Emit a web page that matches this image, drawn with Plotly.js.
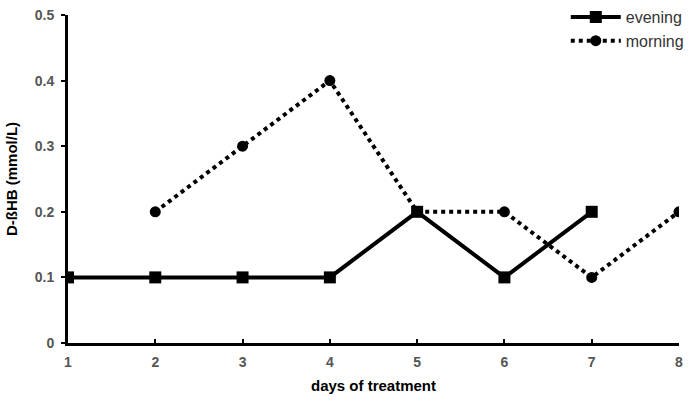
<!DOCTYPE html>
<html><head><meta charset="utf-8">
<script src="https://cdn.plot.ly/plotly-3.0.1.min.js"></script>
<style>body{margin:0;}#chart{width:691px;height:405px;}</style>
</head><body><div id="chart"></div>
<script>
const eveningDays = [1,2,3,4,5,6,7];
const eveningVals = [0.1,0.1,0.1,0.1,0.2,0.1,0.2];
const morningDays = [2,3,4,5,6,7,8];
const morningVals = [0.2,0.3,0.4,0.2,0.2,0.1,0.2];
const xTicks = [1,2,3,4,5,6,7,8];
const yTicks = [0,0.1,0.2,0.3,0.4,0.5];
const yTickText = ['0','0.1','0.2','0.3','0.4','0.5'];

const traces = [
  {x: eveningDays, y: eveningVals, name: 'evening', mode: 'lines+markers',
   line: {color: '#000', width: 4}, marker: {symbol: 'square', size: 12, color: '#000'}},
  {x: morningDays, y: morningVals, name: 'morning', mode: 'lines+markers',
   line: {color: '#000', width: 4, dash: 'dot'}, marker: {symbol: 'circle', size: 11, color: '#000'}}
];
const layout = {
  width: 691, height: 405,
  margin: {l: 68, r: 12, t: 15, b: 62, autoexpand: false},
  paper_bgcolor: '#fff', plot_bgcolor: '#fff',
  font: {family: 'Liberation Sans, Arial, sans-serif', size: 13, color: '#000'},
  showlegend: true,
  legend: {x: 1.016, xanchor: 'right', xref: 'paper', y: 1, yanchor: 'top', yref: 'container',
           bgcolor: 'rgba(0,0,0,0)', font: {size: 16, color: '#333'}, tracegroupgap: 0, itemwidth: 50},
  xaxis: {range: [1, 8], tickvals: xTicks, showgrid: false, zeroline: false,
          showline: true, linecolor: '#000', linewidth: 3, ticks: 'inside', ticklen: 4, tickwidth: 2,
          tickcolor: '#000', ticklabelstandoff: 4,
          tickfont: {size: 14, color: '#555', family: 'Liberation Sans, Arial, sans-serif', weight: 'bold'},
          title: {text: '<b>days of treatment</b>', font: {size: 15, color: '#000'}, standoff: 12}},
  yaxis: {range: [0, 0.5], tickvals: yTicks, ticktext: yTickText, showgrid: false, zeroline: false,
          showline: true, linecolor: '#000', linewidth: 3, ticks: 'outside', ticklen: 4, tickwidth: 2,
          tickcolor: '#000', ticklabelstandoff: 4,
          tickfont: {size: 14, color: '#555', family: 'Liberation Sans, Arial, sans-serif', weight: 'bold'},
          title: {text: '<b>D-ßHB (mmol/L)</b>', font: {size: 15, color: '#000'}, standoff: 14}}
};
Plotly.newPlot('chart', traces, layout, {displayModeBar: false, staticPlot: true});
</script></body></html>
